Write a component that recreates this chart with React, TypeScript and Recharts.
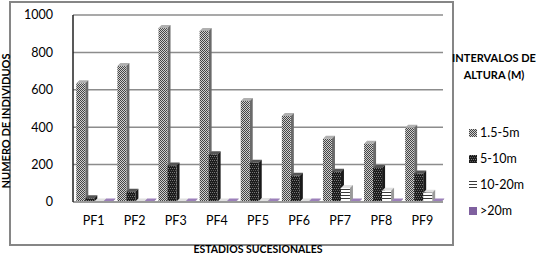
import React from "react";
import { BarChart, Bar, XAxis, YAxis, CartesianGrid } from "recharts";

const categories = ["PF1", "PF2", "PF3", "PF4", "PF5", "PF6", "PF7", "PF8", "PF9"];
const h1_5to5 = [635, 727, 930, 915, 540, 460, 338, 312, 397];
const h5to10 = [20, 55, 195, 255, 210, 140, 162, 182, 152];
const h10to20 = [0, 0, 0, 0, 5, 0, 75, 60, 50];
const hOver20 = [2, 2, 2, 2, 2, 2, 2, 2, 2];
const yTicks = [0, 200, 400, 600, 800, 1000];

const seriesNames = ["1.5-5m", "5-10m", "10-20m", ">20m"];
const seriesKeys = ["a", "b", "c", "d"];
const seriesFills = ["url(#pat1)", "url(#pat2)", "url(#pat3)", "#7f609f"];
const sideFills = ["#6a6a6a", "#1a1a1a", "#9a9a9a", "#5d4478"];
const topFills = ["#b0b0b0", "#555555", "#e0e0e0", "#9c80ba"];

const data = categories.map((name, i) => ({
  name,
  a: h1_5to5[i],
  b: h5to10[i],
  c: h10to20[i],
  d: hOver20[i],
}));

const FONT = "Lato, 'Open Sans', sans-serif";

// simple 3D-looking bar: front face + right side + top
function makeBar(idx: number) {
  return (props: any) => {
    const { x, y, width, height } = props;
    const d = 3;
    const h = Math.max(height, 0.5);
    const yy = y + height - h;
    return (
      <g>
        <polygon
          points={`${x},${yy} ${x + d},${yy - d} ${x + width + d},${yy - d} ${x + width},${yy}`}
          fill={topFills[idx]}
        />
        <polygon
          points={`${x + width},${yy} ${x + width + d},${yy - d} ${x + width + d},${yy + h - d} ${x + width},${yy + h}`}
          fill={sideFills[idx]}
        />
        <rect x={x} y={yy} width={width} height={h} fill={seriesFills[idx]} />
      </g>
    );
  };
}

function Patterns() {
  return (
    <svg width={0} height={0} style={{ position: "absolute" }}>
      <defs>
        <pattern id="pat1" width={2} height={2} patternUnits="userSpaceOnUse">
          <rect width={2} height={2} fill="#cfcfcf" />
          <rect x={0} y={0} width={1} height={1} fill="#444444" />
          <rect x={1} y={1} width={1} height={1} fill="#444444" />
        </pattern>
        <pattern id="pat2" width={2} height={4} patternUnits="userSpaceOnUse">
          <rect width={2} height={4} fill="#1c1c1c" />
          <rect x={0} y={0} width={1} height={1} fill="#7a7a7a" />
          <rect x={1} y={2} width={1} height={1} fill="#5a5a5a" />
        </pattern>
        <pattern id="pat3" width={4} height={3} patternUnits="userSpaceOnUse">
          <rect width={4} height={3} fill="#ffffff" />
          <rect x={0} y={0} width={4} height={1} fill="#3a3a3a" />
        </pattern>
      </defs>
    </svg>
  );
}

export default function App() {
  return (
    <div style={{ position: "absolute", left: 0, top: 0, width: 536, height: 255, background: "#fff", fontFamily: FONT }}>
      <Patterns />
      <div
        style={{
          position: "absolute",
          left: 9,
          top: 1,
          width: 441,
          height: 241,
          border: "2px solid #868686",
        }}
      />
      <div style={{ position: "absolute", left: 0, top: 0 }}>
        <BarChart
          width={536}
          height={255}
          data={data}
          margin={{ top: 15, right: 93, bottom: 23, left: 13 }}
          barCategoryGap="8%"
          barGap={0}
        >
          <CartesianGrid vertical={false} stroke="#8c8c8c" strokeWidth={1.5} yAxisId="l" />
          <XAxis
            dataKey="name"
            height={30}
            tickLine={false}
            axisLine={{ stroke: "#9a9a9a", strokeWidth: 2 }}
            tickMargin={8}
            tick={{ fontSize: 12.5, fill: "#000", fontFamily: FONT }}
            interval={0}
            label={{
              content: () => (
                <text x={258} y={253} textAnchor="middle" fontSize={10.5} fontWeight="bold" fontFamily={FONT} fill="#000">
                  ESTADIOS SUCESIONALES
                </text>
              ),
            }}
          />
          <YAxis
            yAxisId="l"
            width={60}
            domain={[0, 1000]}
            ticks={yTicks}
            tickLine={false}
            axisLine={{ stroke: "#222", strokeWidth: 1.5 }}
            tickMargin={14}
            tick={{ fontSize: 12.5, fill: "#000", fontFamily: FONT }}
            label={{
              content: () => (
                <text
                  x={10}
                  y={121}
                  transform="rotate(-90 10 121)"
                  textAnchor="middle"
                  fontSize={11}
                  fontWeight="bold"
                  fontFamily={FONT}
                  fill="#000"
                >
                  NUMERO DE INDIVIDUOS
                </text>
              ),
            }}
          />
          <YAxis yAxisId="r" orientation="right" width={0} tick={false} axisLine={{ stroke: "#333", strokeWidth: 1.5 }} domain={[0, 1000]} />
          {seriesKeys.map((k, i) => (
            <Bar key={k} yAxisId="l" dataKey={k} name={seriesNames[i]} fill={seriesFills[i]} shape={makeBar(i)} isAnimationActive={false} />
          ))}
        </BarChart>
      </div>
      <div style={{ position: "absolute", left: 452, top: 49, width: 84, textAlign: "center", fontSize: 11, fontWeight: "bold", lineHeight: "17px" }}>
        INTERVALOS DE<br />ALTURA (M)
      </div>
      {seriesNames.map((n, i) => (
        <div
          key={n}
          style={{ position: "absolute", left: 469, top: 126 + i * 26, fontSize: 12.5, display: "flex", alignItems: "center", lineHeight: "14px" }}
        >
          <svg width={8} height={8} style={{ marginRight: 3 }}>
            <rect width={8} height={8} fill={seriesFills[i]} />
          </svg>
          {n}
        </div>
      ))}
    </div>
  );
}
